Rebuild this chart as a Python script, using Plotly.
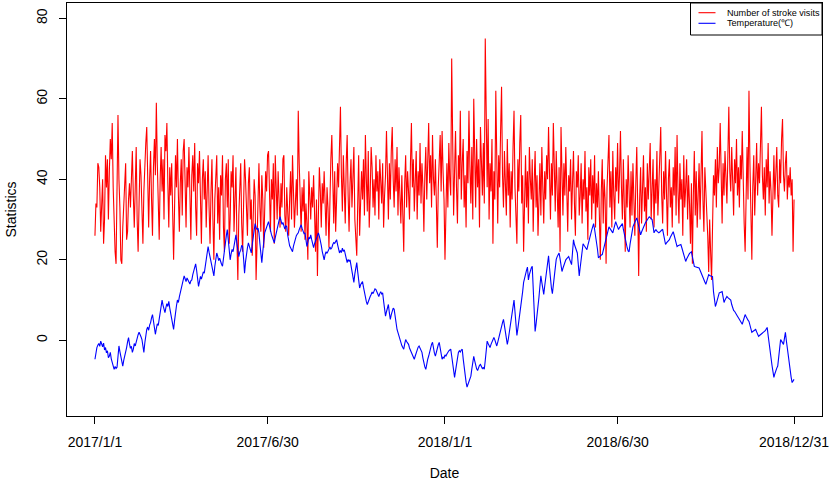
import pandas as pd
import plotly.graph_objects as go

# ---------------- data ----------------
tick_dates = ["2017-01-01", "2017-06-30", "2018-01-01", "2018-06-30", "2018-12-31"]
tick_labels = ["2017/1/1", "2017/6/30", "2018/1/1", "2018/6/30", "2018/12/31"]
series_names = ["Number of stroke visits", "Temperature(\u2103)"]

# daily number of stroke visits, 2017 (one line per month)
red_2017 = [
    26, 34, 33, 44, 43, 38, 27, 36, 40, 24, 30, 46, 38, 45, 30, 42, 50, 45, 54, 38, 29, 22, 19, 41, 56, 40, 33, 20, 19, 28, 34,
    37, 44, 25, 27, 35, 39, 33, 42, 47, 36, 28, 38, 48, 30, 22, 34, 45, 41, 33, 24, 37, 46, 49, 53, 38, 28, 40, 47,
    35, 26, 43, 50, 41, 59, 44, 32, 25, 40, 48, 37, 45, 30, 51, 47, 54, 39, 28, 43, 36, 44, 29, 20, 33, 46, 38, 50, 36, 27, 39,
    45, 31, 47, 50, 34, 28, 43, 38, 48, 30, 25, 41, 46, 37, 49, 33, 26, 44, 39, 47, 31, 24, 40, 45, 35, 42, 28, 38, 46, 33,
    24, 37, 45, 30, 20, 35, 43, 46, 29, 38, 25, 41, 36, 46, 28, 22, 40, 44, 33, 45, 24, 30, 42, 38, 46, 27, 35, 43, 25, 15, 31,
    38, 44, 29, 22, 34, 45, 40, 31, 26, 39, 43, 30, 35, 21, 28, 40, 36, 15, 24, 38, 44, 33, 27, 41, 35, 23, 30, 42, 37, 46,
    47, 33, 27, 40, 35, 44, 24, 46, 38, 30, 42, 36, 28, 39, 33, 45, 46, 31, 27, 38, 33, 26, 35, 42, 30, 46, 37, 28, 34, 40, 31,
    57, 44, 35, 27, 38, 32, 40, 25, 34, 29, 20, 42, 36, 30, 38, 33, 41, 27, 22, 35, 16, 31, 43, 37, 28, 39, 34, 42, 30, 26, 38,
    33, 23, 36, 45, 51, 38, 29, 42, 27, 35, 44, 38, 48, 58, 41, 32, 46, 37, 29, 44, 51, 36, 27, 39, 45, 33, 41, 48, 30, 25,
    21, 34, 46, 26, 38, 42, 35, 45, 31, 51, 40, 32, 47, 28, 36, 48, 43, 33, 40, 31, 46, 37, 42, 30, 45, 39, 34, 44, 28, 36, 41,
    52, 38, 30, 44, 35, 47, 53, 40, 33, 45, 37, 48, 31, 43, 36, 29, 41, 34, 22, 39, 46, 33, 42, 37, 30, 44, 54, 38, 45, 32,
    40, 47, 30, 42, 36, 49, 34, 44, 38, 27, 41, 48, 35, 43, 54, 39, 46, 33, 51, 40, 36, 45, 31, 23, 38, 44, 51, 37, 52, 42, 35,
]

# daily number of stroke visits, 2018 (one line per month)
red_2018 = [
    20, 38, 44, 33, 49, 40, 36, 70, 45, 31, 42, 52, 38, 29, 46, 40, 57, 35, 44, 50, 33, 41, 28, 47, 39, 57, 43, 34, 48, 30, 60,
    42, 33, 50, 38, 45, 28, 53, 41, 36, 49, 34, 75, 47, 38, 55, 30, 44, 37, 50, 24, 42, 35, 62, 40, 29, 46, 38, 52,
    63, 41, 33, 47, 39, 31, 50, 36, 44, 28, 42, 35, 48, 57, 38, 30, 24, 45, 37, 49, 56, 34, 41, 22, 38, 46, 33, 42, 29, 48, 40,
    35, 45, 27, 39, 47, 33, 41, 26, 36, 44, 31, 48, 38, 29, 42, 35, 46, 40, 53, 37, 30, 44, 36, 54, 41, 32, 47, 38, 28, 43,
    22, 53, 39, 31, 44, 36, 48, 33, 27, 41, 37, 45, 30, 39, 47, 34, 26, 42, 38, 46, 31, 36, 44, 29, 40, 35, 47, 32, 38, 25, 43,
    36, 45, 30, 41, 34, 46, 28, 39, 33, 42, 31, 20, 37, 45, 29, 40, 35, 19, 38, 44, 51, 33, 42, 28, 47, 36, 30, 43, 37, 49,
    34, 41, 52, 38, 30, 45, 35, 22, 40, 33, 46, 37, 28, 42, 31, 44, 36, 26, 39, 48, 33, 16, 35, 43, 29, 40, 46, 32, 38, 27, 44,
    35, 41, 49, 30, 37, 45, 28, 40, 34, 47, 31, 39, 44, 53, 36, 29, 42, 35, 47, 32, 26, 40, 45, 33, 38, 28, 43, 36, 48, 31, 51,
    37, 29, 44, 35, 40, 26, 46, 33, 38, 45, 30, 41, 34, 24, 39, 19, 36, 47, 31, 42, 28, 37, 44, 30, 40, 52, 35, 27, 43, 38,
    33, 26, 17, 30, 22, 15, 28, 41, 36, 45, 33, 48, 39, 43, 54, 38, 29, 44, 36, 47, 40, 34, 46, 58, 42, 37, 48, 35, 31, 45, 39,
    50, 36, 43, 33, 46, 40, 52, 37, 29, 22, 41, 48, 35, 62, 44, 33, 20, 38, 46, 31, 42, 49, 36, 44, 39, 47, 58, 41, 35, 43,
    31, 45, 38, 49, 34, 42, 37, 26, 40, 46, 35, 43, 48, 36, 33, 45, 39, 50, 55, 41, 37, 44, 47, 35, 41, 38, 43, 36, 40, 22, 35,
]

# daily mean temperature (deg C), 2017 (one line per month)
blue_2017 = [
    -4.7, -3.0, -1.8, -1.2, -0.8, -1.5, -0.2, -0.9, -1.6, -0.7, -2.4, -1.8, -3.1, -2.6, -4.3, -3.9, -3.0, -4.6, -5.3, -6.1, -7.2, -6.5, -7.0, -6.7, -4.0, -1.4, -2.8, -4.1, -5.5, -6.4, -5.0,
    -4.1, -3.0, -1.8, -0.4, 0.7, -0.9, -2.0, -1.5, -3.0, -2.2, -0.8, -1.4, -0.3, 0.6, 1.4, 2.0, 1.1, 0.9, 0.2, -1.2, -3.0, -0.6, 1.5, 2.7, 3.3, 2.5, 3.8, 4.4,
    5.6, 6.4, 4.8, 3.0, 1.5, 2.9, 4.1, 3.7, 5.2, 6.8, 8.5, 10.0, 8.7, 7.5, 6.9, 8.2, 9.1, 8.4, 9.7, 8.0, 6.4, 5.1, 3.6, 2.7, 4.9, 7.3, 8.6, 10.0, 9.4, 10.8, 11.8,
    12.9, 14.2, 15.1, 16.0, 15.3, 14.6, 15.5, 15.0, 14.4, 14.0, 14.8, 15.0, 16.3, 17.2, 18.1, 19.0, 17.4, 15.5, 13.4, 14.6, 15.9, 15.2, 16.4, 17.0, 16.7, 18.3, 20.1, 21.8, 23.3, 21.9,
    20.8, 20.0, 18.2, 17.1, 16.0, 18.4, 20.3, 21.7, 20.9, 19.8, 20.4, 19.3, 18.9, 18.4, 20.6, 22.9, 24.5, 26.0, 27.5, 25.2, 22.4, 20.0, 21.5, 22.6, 22.0, 23.3, 25.0, 26.2, 24.1, 22.3, 20.8,
    21.9, 22.4, 23.6, 23.3, 20.2, 16.7, 19.5, 21.8, 23.0, 24.2, 23.1, 22.5, 21.7, 23.8, 25.9, 27.7, 29.0, 28.1, 27.5, 27.9, 26.7, 24.0, 21.5, 19.3, 22.0, 24.6, 26.7, 27.4, 28.3, 28.9,
    29.5, 28.4, 27.1, 26.3, 25.6, 24.9, 24.2, 25.5, 26.8, 27.5, 28.9, 29.8, 30.7, 29.6, 28.8, 29.3, 28.0, 27.6, 28.5, 28.2, 26.1, 24.2, 23.5, 23.0, 22.6, 22.0, 23.4, 24.5, 25.7, 26.0, 26.4,
    26.7, 27.5, 28.2, 28.7, 27.8, 27.3, 26.5, 26.7, 25.0, 23.3, 24.4, 25.6, 25.2, 26.2, 25.0, 24.1, 23.0, 24.0, 24.8, 25.6, 26.1, 26.7, 25.9, 25.0, 23.6, 22.1, 21.0, 20.0, 21.3, 22.0, 21.6,
    22.1, 22.5, 23.2, 22.7, 23.0, 23.8, 24.3, 24.1, 24.6, 25.0, 23.8, 22.6, 21.7, 22.3, 21.8, 22.9, 22.1, 22.5, 21.1, 20.0, 19.3, 20.1, 19.6, 20.0, 18.4, 16.7, 15.2, 14.4, 16.5, 18.2,
    19.3, 17.0, 14.9, 13.0, 13.8, 14.1, 14.6, 13.2, 11.8, 10.5, 9.6, 8.9, 9.8, 10.5, 10.9, 11.4, 12.0, 11.6, 12.2, 12.8, 12.6, 11.9, 11.2, 10.9, 11.6, 12.1, 11.5, 11.8, 9.7, 7.8, 6.0,
    7.1, 8.2, 8.9, 6.8, 5.2, 6.4, 7.3, 8.0, 7.7, 5.9, 4.1, 2.7, 1.9, 1.0, 0.2, -0.5, -1.3, -1.8, -2.2, -0.9, 0.2, -0.3, -0.6, -1.0, -1.9, -2.5, -3.1, -3.6, -4.2, -4.7,
    -3.9, -3.0, -2.2, -1.7, -1.4, -2.1, -2.6, -3.0, -4.4, -5.8, -6.6, -7.2, -5.6, -4.7, -3.9, -2.8, -1.6, -1.0, -0.5, -2.1, -3.2, -3.9, -2.7, -1.6, -1.1, -0.5, -1.8, -3.5, -4.7, -4.2, -4.4,
]

# daily mean temperature (deg C), 2018 (one line per month)
blue_2018 = [
    -3.6, -3.9, -3.4, -2.9, -2.6, -2.4, -2.2, -3.9, -5.8, -7.5, -9.2, -7.6, -5.7, -4.1, -3.0, -2.6, -2.9, -2.4, -2.2, -4.6, -6.9, -8.7, -10.4, -11.6, -10.8, -9.9, -9.3, -8.9, -7.1, -5.6, -4.0,
    -5.1, -6.3, -7.1, -7.5, -6.8, -6.2, -6.0, -6.5, -7.0, -6.8, -7.2, -5.0, -2.4, -0.2, -0.8, -1.3, -1.8, -1.0, -0.3, 0.3, 0.7, 0.1, -0.8, -1.4, -0.5, 0.6, 1.5, 2.2,
    3.3, 4.4, 5.2, 3.6, 1.8, 0.3, -1.0, 0.2, 1.9, 3.5, 5.2, 6.9, 8.6, 10.0, 7.1, 4.0, 1.2, 2.9, 4.6, 6.0, 7.5, 9.8, 12.1, 14.4, 15.6, 16.5, 17.4, 18.2, 15.0, 16.3, 17.5,
    18.0, 18.4, 13.1, 7.4, 2.2, 4.1, 6.0, 8.0, 10.7, 13.5, 16.0, 14.4, 12.8, 11.4, 13.5, 15.8, 17.9, 19.6, 21.0, 18.0, 15.1, 13.0, 11.6, 14.2, 16.8, 19.3, 20.1, 20.8, 21.4, 21.7,
    20.3, 18.6, 17.1, 17.9, 18.8, 19.4, 20.0, 20.3, 20.6, 20.8, 20.1, 19.4, 18.8, 21.9, 25.0, 23.8, 22.9, 22.2, 21.7, 18.9, 16.0, 18.1, 20.0, 22.2, 24.0, 23.6, 23.1, 22.8, 22.5, 23.6, 24.7,
    25.7, 26.5, 27.4, 28.2, 29.0, 27.6, 26.2, 25.0, 22.7, 20.5, 20.8, 21.0, 21.2, 21.3, 22.2, 23.3, 24.2, 25.1, 26.2, 27.3, 28.2, 27.8, 27.4, 27.0, 26.7, 27.6, 28.6, 29.5, 28.8, 28.1,
    27.5, 28.0, 28.4, 28.7, 29.0, 27.6, 26.3, 25.0, 24.0, 23.0, 22.2, 22.0, 23.9, 25.7, 27.5, 28.2, 28.8, 29.4, 29.9, 30.4, 29.4, 28.3, 27.2, 26.2, 26.9, 27.6, 28.2, 28.7, 29.2, 29.6, 30.0,
    30.4, 30.7, 30.5, 30.2, 30.0, 28.4, 26.7, 27.2, 27.5, 27.1, 26.9, 26.7, 26.9, 27.2, 27.4, 27.5, 26.2, 25.0, 23.8, 24.2, 24.5, 24.8, 25.0, 25.6, 26.1, 26.6, 27.0, 26.1, 25.2, 24.3, 23.3,
    23.5, 23.6, 23.7, 23.8, 23.0, 22.0, 21.1, 20.3, 19.6, 20.2, 20.8, 21.3, 21.6, 21.8, 22.0, 20.8, 19.6, 18.4, 18.3, 18.2, 18.1, 18.0, 18.0, 17.4, 16.9, 16.3, 15.7, 15.1, 14.5, 13.9,
    14.7, 15.5, 16.3, 16.1, 16.0, 15.9, 15.8, 12.1, 10.2, 8.4, 9.2, 10.1, 11.0, 11.8, 11.9, 12.0, 12.1, 10.8, 9.4, 10.0, 10.5, 10.9, 10.6, 10.4, 10.2, 10.0, 8.9, 7.7, 7.4, 7.2, 6.9,
    6.5, 6.0, 5.6, 5.2, 4.8, 4.4, 4.0, 4.8, 5.6, 6.4, 5.9, 5.3, 5.0, 4.7, 3.8, 2.9, 2.0, 2.2, 2.4, 2.6, 2.7, 2.1, 1.5, 1.0, 1.2, 1.4, 1.6, 1.8, 1.9, 2.0,
    2.4, 2.8, 3.2, 1.2, -0.9, -2.8, -4.7, -6.2, -7.7, -9.2, -8.3, -7.4, -6.9, -6.4, -4.2, -2.0, 0.2, -0.2, -0.6, -1.0, 0.5, 2.0, -0.1, -2.2, -4.3, -6.4, -7.8, -9.2, -10.5, -10.1, -9.7,
]

visits = red_2017 + red_2018
temperature = blue_2017 + blue_2018
if len(visits) != 730 or len(temperature) != 730:
    raise SystemExit(f"length mismatch: {len(red_2017)} {len(red_2018)} {len(blue_2017)} {len(blue_2018)}")

dates = pd.date_range("2017-01-01", periods=len(visits), freq="D")

# ---------------- figure ----------------
FONT = "Liberation Sans, Arial, sans-serif"
W, H = 829, 484
ML, MR, MT, MB = 67, 7, 3, 68

fig = go.Figure()
fig.add_trace(go.Scatter(x=dates, y=visits, mode="lines", name=series_names[0],
                         line=dict(color="#FF0000", width=1.1)))
fig.add_trace(go.Scatter(x=dates, y=temperature, mode="lines", name=series_names[1],
                         line=dict(color="#0000FF", width=1.1)))

pad = pd.Timedelta(days=29.16)
x0 = (pd.Timestamp("2017-01-01") - pad).strftime("%Y-%m-%d %H:%M:%S")
x1 = (pd.Timestamp("2018-12-31") + pad).strftime("%Y-%m-%d %H:%M:%S")

fig.update_layout(
    width=W, height=H,
    margin=dict(l=ML, r=MR, t=MT, b=MB, autoexpand=False),
    paper_bgcolor="white", plot_bgcolor="white",
    font=dict(family=FONT, size=14, color="black"),
    showlegend=False,
    xaxis=dict(
        type="date", range=[x0, x1], automargin=False,
        tickmode="array", tickvals=tick_dates, ticktext=tick_labels,
        ticks="outside", ticklen=7, tickcolor="black", tickwidth=1,
        ticklabelstandoff=6, ticklabeloverflow="allow",
        showgrid=False, zeroline=False,
        showline=True, linecolor="black", linewidth=1, mirror=True,
        tickfont=dict(size=14),
        title=dict(text="Date", font=dict(size=14), standoff=19),
    ),
    yaxis=dict(
        range=[-18.8, 83.8], automargin=False,
        tickmode="array", tickvals=[0, 20, 40, 60, 80],
        ticks="outside", ticklen=7, tickcolor="black", tickwidth=1,
        tickangle=-90, ticklabelstandoff=6, ticklabeloverflow="allow",
        showgrid=False, zeroline=False,
        showline=True, linecolor="black", linewidth=1, mirror=True,
        tickfont=dict(size=14),
        title=dict(text="Statistics", font=dict(size=14), standoff=14),
    ),
)

# ---------------- legend box (R style) ----------------
pw = W - ML - MR
ph = H - MT - MB
def px(xp):
    return (xp - ML) / pw
def py(yp):
    return (H - MB - yp) / ph

fig.add_shape(type="rect", xref="paper", yref="paper",
              x0=px(690.5), x1=1, y0=py(35), y1=1,
              line=dict(color="black", width=1), fillcolor="white", layer="above")
for name, col, yy in [(series_names[0], "#FF0000", 12.7), (series_names[1], "#0000FF", 23.3)]:
    fig.add_shape(type="line", xref="paper", yref="paper",
                  x0=px(698.5), x1=px(715.5), y0=py(yy), y1=py(yy),
                  line=dict(color=col, width=1.1), layer="above")
    fig.add_annotation(xref="paper", yref="paper", x=px(724.5), y=py(yy),
                       xanchor="left", yanchor="middle", showarrow=False,
                       text=name, font=dict(family=FONT, size=9.1, color="black"))

fig.write_html("out.html",
               config={"displayModeBar": False},
               post_script="document.body.style.margin='0px';document.body.style.overflow='hidden';")
